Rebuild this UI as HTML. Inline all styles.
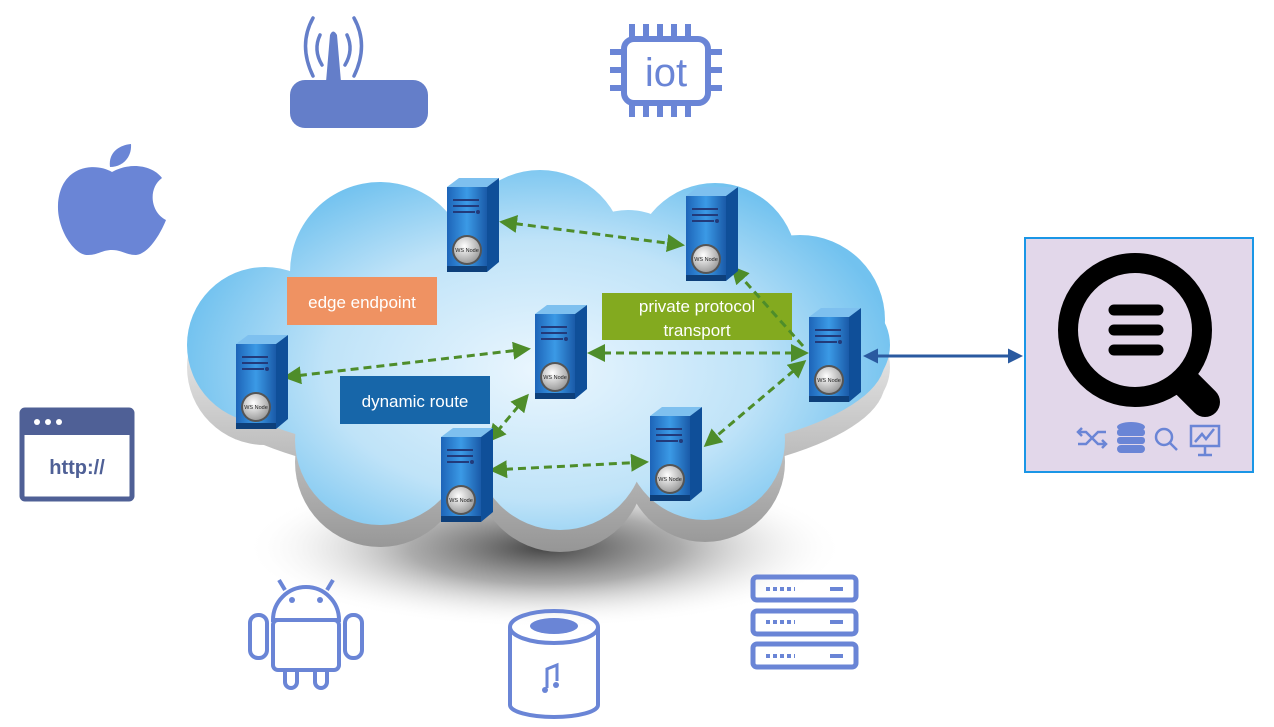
<!DOCTYPE html>
<html><head><meta charset="utf-8"><style>
html,body{margin:0;padding:0;background:#fff;width:1274px;height:727px;overflow:hidden}
svg{display:block;font-family:"Liberation Sans",sans-serif}
</style></head><body>
<svg width="1274" height="727" viewBox="0 0 1274 727">
<defs>
<radialGradient id="shadow" cx="0.5" cy="0.5" r="0.5">
<stop offset="0" stop-color="#444"/><stop offset="0.45" stop-color="#888" stop-opacity="0.7"/><stop offset="1" stop-color="#fff" stop-opacity="0"/></radialGradient>
<radialGradient id="cloudg" gradientUnits="userSpaceOnUse" cx="540" cy="370" r="360" gradientTransform="translate(540 370) scale(1 0.6) translate(-540 -370)">
<stop offset="0" stop-color="#eaf6fe"/><stop offset="0.6" stop-color="#bfe3f8"/><stop offset="1" stop-color="#72c2ef"/></radialGradient>
<linearGradient id="grayg" gradientUnits="userSpaceOnUse" x1="0" y1="300" x2="0" y2="560">
<stop offset="0" stop-color="#f0f0f0"/><stop offset="1" stop-color="#8a8a8a"/></linearGradient>
<linearGradient id="front" x1="0" y1="0" x2="1" y2="0">
<stop offset="0" stop-color="#1d64b8"/><stop offset="0.5" stop-color="#3b9ae6"/><stop offset="1" stop-color="#1a5aa8"/></linearGradient>
<radialGradient id="knob" cx="0.4" cy="0.35" r="0.7"><stop offset="0" stop-color="#fff"/><stop offset="1" stop-color="#999"/></radialGradient>
<marker id="ag" markerWidth="6" markerHeight="6" refX="5" refY="3" orient="auto-start-reverse" markerUnits="strokeWidth"><path d="M0,0 L6,3 L0,6z" fill="#4e8d2a"/></marker>
<marker id="ab" markerWidth="5" markerHeight="5" refX="4" refY="2.5" orient="auto-start-reverse" markerUnits="strokeWidth"><path d="M0,0 L5,2.5 L0,5z" fill="#2a5aa0"/></marker>
<g id="srv">
<path d="M0,9 L12,0 L52,0 L40,9z" fill="#7ec0ef"/>
<path d="M40,9 L52,0 L52,84 L40,94z" fill="#0f4f99"/>
<rect x="0" y="9" width="40" height="85" fill="url(#front)"/>
<rect x="0" y="88" width="40" height="6" fill="#0d3f7a"/>
<rect x="6" y="21" width="26" height="2" fill="#223a7a"/>
<rect x="6" y="27" width="26" height="2" fill="#223a7a"/>
<rect x="6" y="33" width="22" height="2" fill="#223a7a"/>
<circle cx="31" cy="34" r="2" fill="#223a7a"/>
<circle cx="20" cy="72" r="15" fill="#555"/>
<circle cx="20" cy="72" r="13" fill="url(#knob)"/>
<text x="20" y="74" font-size="5.5" text-anchor="middle" fill="#222">WS Node</text>
</g>
<g id="cloud">
<ellipse cx="540" cy="360" rx="345" ry="105"/>
<circle cx="380" cy="272" r="90"/><circle cx="540" cy="255" r="85"/><circle cx="715" cy="265" r="82"/>
<circle cx="628" cy="280" r="70"/>
<circle cx="800" cy="320" r="85"/><circle cx="265" cy="345" r="78"/><circle cx="380" cy="440" r="85"/>
<circle cx="560" cy="445" r="85"/><circle cx="705" cy="440" r="80"/><circle cx="840" cy="345" r="50"/>
</g>
</defs>

<ellipse cx="545" cy="548" rx="300" ry="80" fill="url(#shadow)"/>

<use href="#cloud" fill="url(#grayg)" transform="translate(0,22)"/>
<use href="#cloud" fill="url(#cloudg)"/>

<rect x="287" y="277" width="150" height="48" fill="#ef9262"/>
<text x="362" y="308" font-size="17" fill="#fff" text-anchor="middle">edge endpoint</text>
<rect x="340" y="376" width="150" height="48" fill="#1766a9"/>
<text x="415" y="407" font-size="17" fill="#fff" text-anchor="middle">dynamic route</text>
<rect x="602" y="293" width="190" height="47" fill="#83aa1f"/>
<text x="697" y="312" font-size="17" fill="#fff" text-anchor="middle">private protocol</text>
<text x="697" y="336" font-size="17" fill="#fff" text-anchor="middle">transport</text>

<g stroke="#4e8d2a" stroke-width="3" stroke-dasharray="8,5" fill="none" marker-start="url(#ag)" marker-end="url(#ag)">
<line x1="502" y1="222" x2="682" y2="245"/>
<line x1="286" y1="377" x2="528" y2="349"/>
<line x1="590" y1="353" x2="806" y2="353"/>
<line x1="492" y1="470" x2="646" y2="462"/>
<line x1="527" y1="396" x2="490" y2="440"/>
<line x1="804" y1="362" x2="706" y2="445"/>
</g>
<line x1="803" y1="346" x2="733" y2="268" stroke="#4e8d2a" stroke-width="3" stroke-dasharray="8,5" marker-end="url(#ag)"/>

<use href="#srv" x="447" y="178"/>
<use href="#srv" x="686" y="187"/>
<use href="#srv" x="535" y="305"/>
<use href="#srv" x="236" y="335"/>
<use href="#srv" x="809" y="308"/>
<use href="#srv" x="650" y="407"/>
<use href="#srv" x="441" y="428"/>

<line x1="866" y1="356" x2="1020" y2="356" stroke="#2a5aa0" stroke-width="3" marker-start="url(#ab)" marker-end="url(#ab)"/>

<rect x="1025" y="238" width="228" height="234" fill="#e2d7ea" stroke="#1a96e6" stroke-width="2"/>
<circle cx="1135" cy="330" r="67" fill="none" stroke="#000" stroke-width="20"/>
<line x1="1185" y1="382" x2="1205" y2="402" stroke="#000" stroke-width="30" stroke-linecap="round"/>
<g stroke="#000" stroke-width="11" stroke-linecap="round">
<line x1="1114" y1="310" x2="1158" y2="310"/><line x1="1114" y1="330" x2="1158" y2="330"/><line x1="1114" y1="350" x2="1158" y2="350"/></g>
<g stroke="#6a85d6" stroke-width="2.5" fill="none">
<path d="M1078,432 h8 l12,12 h8 M1078,444 h8 l12,-12 h8 M1082,428 l-4,4 4,4 M1102,440 l4,4 -4,4"/>
<circle cx="1164" cy="437" r="8"/><line x1="1170" y1="443" x2="1177" y2="450"/>
<rect x="1191" y="426" width="28" height="20"/><path d="M1205,446 v8 M1198,455 h14 M1195,442 l7,-8 4,5 8,-10"/>
</g>
<g fill="#6a85d6"><ellipse cx="1131" cy="427" rx="14" ry="5"/><rect x="1117" y="429" width="28" height="7" rx="3"/><rect x="1117" y="437" width="28" height="7" rx="3"/><rect x="1117" y="445" width="28" height="8" rx="4"/></g>

<g fill="#647ec9"><rect x="290" y="80" width="138" height="48" rx="15"/><path d="M326,82 L330,35 Q333,28 337,35 L341,82z"/></g>
<g fill="none" stroke="#647ec9" stroke-width="3.5" stroke-linecap="round">
<path d="M320,35 Q313,50 322,65"/><path d="M313,18 Q298,45 313,76"/><path d="M347,35 Q354,50 345,65"/><path d="M354,18 Q369,45 354,76"/></g>
<g fill="none" stroke="#6a85d6" stroke-width="6">
<rect x="624" y="39" width="84" height="64" rx="10"/>
<path d="M632,24 v15 M646,24 v15 M660,24 v15 M674,24 v15 M688,24 v15 M632,103 v14 M646,103 v14 M660,103 v14 M674,103 v14 M688,103 v14 M610,52 h14 M610,70 h14 M610,88 h14 M708,52 h14 M708,70 h14 M708,88 h14"/></g>
<text x="666" y="86" font-size="40" fill="#6a85d6" text-anchor="middle">iot</text>
<g fill="#6a85d6">
<path d="M112,172 C95,162 60,165 58,205 C57,230 75,256 88,255 C98,255 102,250 112,250 C122,250 126,255 136,255 C148,254 160,235 166,220 C150,212 148,188 162,178 C152,165 130,162 112,172z"/>
<path d="M110,167 C108,152 120,145 131,144 C132,158 122,167 110,167z"/></g>
<rect x="22" y="410" width="110" height="89" rx="3" fill="none" stroke="#4f6096" stroke-width="5"/>
<rect x="22" y="410" width="110" height="25" fill="#4f6096"/>
<circle cx="37" cy="422" r="3" fill="#fff"/><circle cx="48" cy="422" r="3" fill="#fff"/><circle cx="59" cy="422" r="3" fill="#fff"/>
<text x="77" y="474" font-size="20" font-weight="bold" fill="#4f6096" text-anchor="middle">http://</text>
<g fill="none" stroke="#6a85d6" stroke-width="4">
<path d="M273,620 a33,33 0 0 1 66,0 z"/><path d="M285,590 l-6,-10 M327,590 l6,-10"/>
<rect x="273" y="620" width="66" height="50" rx="5"/>
<rect x="250" y="615" width="17" height="43" rx="8"/><rect x="345" y="615" width="17" height="43" rx="8"/>
<path d="M285,670 v12 a6,6 0 0 0 12,0 v-12 M315,670 v12 a6,6 0 0 0 12,0 v-12"/></g>
<circle cx="292" cy="600" r="3" fill="#6a85d6"/><circle cx="320" cy="600" r="3" fill="#6a85d6"/>
<g fill="none" stroke="#6a85d6" stroke-width="4">
<path d="M510,627 v78 a44,12 0 0 0 88,0 v-78"/><ellipse cx="554" cy="627" rx="44" ry="16"/></g>
<ellipse cx="554" cy="626" rx="24" ry="8" fill="#6a85d6"/>
<path d="M547,688 v-19 l10,-4 v16" fill="none" stroke="#6a85d6" stroke-width="3"/>
<circle cx="545" cy="690" r="3" fill="#6a85d6"/><circle cx="556" cy="685" r="3" fill="#6a85d6"/>
<g fill="none" stroke="#6a85d6" stroke-width="5">
<rect x="753" y="577" width="103" height="23" rx="4"/><rect x="753" y="611" width="103" height="23" rx="4"/><rect x="753" y="644" width="103" height="23" rx="4"/></g>
<g stroke="#6a85d6" stroke-width="4" stroke-dasharray="4,3">
<line x1="766" y1="589" x2="795" y2="589"/><line x1="766" y1="622" x2="795" y2="622"/><line x1="766" y1="656" x2="795" y2="656"/></g>
<g stroke="#6a85d6" stroke-width="4">
<line x1="830" y1="589" x2="843" y2="589"/><line x1="830" y1="622" x2="843" y2="622"/><line x1="830" y1="656" x2="843" y2="656"/></g>
</svg>
</body></html>
